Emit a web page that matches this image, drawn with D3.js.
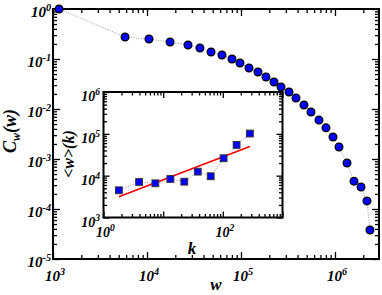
<!DOCTYPE html>
<html>
<head>
<meta charset="utf-8">
<script src="https://cdn.jsdelivr.net/npm/d3@7"></script>
<style>
  body { margin: 0; background: #fff; }
  svg { display: block; }
  .lab { font-family: "Liberation Serif", "DejaVu Serif", serif; font-weight: bold; font-style: italic; fill: #000; }
</style>
</head>
<body>
<svg id="chart" width="382" height="295"></svg>
<script>
// main curve, C_w(w)
var wVals = [1160, 5840, 10500, 17600, 27300, 36600, 48000, 62800, 80200, 97600,
             121700, 151700, 184500, 224500, 266600, 324300, 384800, 468000, 555600, 675600,
             802000, 952600, 1104000, 1343000, 1593000, 1893000, 2190000, 2355000];
var cVals = [1.0, 0.275, 0.251, 0.219, 0.191, 0.166, 0.138, 0.120, 0.100, 0.083,
             0.066, 0.055, 0.0437, 0.0347, 0.0275, 0.0219, 0.0166, 0.0120, 0.0087, 0.0060,
             0.0042, 0.00275, 0.00174, 0.00083, 0.00036, 0.000275, 0.000145, 0.000038];

// inset, <w>(k)
var kVals = [1.81, 3.95, 7.4, 13.2, 22.6, 38, 62.6, 103, 170, 284];
var avgW = [4470, 7060, 6570, 8340, 7180, 12470, 9680, 26100, 54400, 101600];
var fitK = [1.81, 284];
var fitW = [3130, 49500];

var mainXTicks = [1e3, 1e4, 1e5, 1e6];
var mainYTicks = [1, 1e-1, 1e-2, 1e-3, 1e-4, 1e-5];
var insetXTicks = [1, 10, 100, 1000];
var insetXLabels = [1, 100];
var insetYTicks = [1e3, 1e4, 1e5, 1e6];

var svg = d3.select("#chart");

function minors(lo, hi) {
  var out = [];
  for (var e = Math.floor(Math.log10(lo)); e < Math.ceil(Math.log10(hi)); e++) {
    for (var m = 2; m <= 9; m++) {
      var v = m * Math.pow(10, e);
      if (v > lo && v < hi) out.push(v);
    }
  }
  return out;
}

// draws inward ticks on all four sides of a box
function frameTicks(g, x, y, xMaj, yMaj, big, small) {
  var xd = x.domain(), yd = y.domain();
  var r = x.range(), t = y.range();
  var xMin = minors(xd[0], xd[1]), yMin = minors(yd[0], yd[1]);
  var sets = [
    [d3.axisBottom, x, "translate(0," + t[0] + ")", xMaj, xMin],
    [d3.axisTop, x, "translate(0," + t[1] + ")", xMaj, xMin],
    [d3.axisLeft, y, "translate(" + r[0] + ",0)", yMaj, yMin],
    [d3.axisRight, y, "translate(" + r[1] + ",0)", yMaj, yMin]
  ];
  sets.forEach(function(s) {
    [[s[3], big], [s[4], small]].forEach(function(p) {
      var ax = g.append("g").attr("transform", s[2])
        .call(s[0](s[1]).tickValues(p[0]).tickSize(-p[1]).tickFormat(""));
      ax.select(".domain").remove();
      ax.selectAll("line").attr("stroke", "#000").attr("stroke-width", 1.3);
    });
  });
  g.append("rect")
    .attr("x", r[0]).attr("y", t[1])
    .attr("width", r[1] - r[0]).attr("height", t[0] - t[1])
    .attr("fill", "none").attr("stroke", "#000").attr("stroke-width", 2);
}

function powLabel(g, v, px, py, anchor, size) {
  var e = Math.round(Math.log10(v));
  var txt = g.append("text").attr("class", "lab")
    .attr("x", px).attr("y", py)
    .attr("text-anchor", anchor)
    .style("font-size", size + "px");
  txt.append("tspan").text("10");
  txt.append("tspan").attr("dy", -size * 0.42).style("font-size", (size * 0.68) + "px").text(e);
}

// ---------- main plot ----------
var x = d3.scaleLog().domain([1000, 2.94e6]).range([53, 379]);
var y = d3.scaleLog().domain([1e-5, 1]).range([259, 9]);

var gMain = svg.append("g");
frameTicks(gMain, x, y, mainXTicks, mainYTicks, 7, 4);

mainYTicks.forEach(function(v) { powLabel(gMain, v, 51, y(v) + 8, "end", 15); });
mainXTicks.forEach(function(v) { powLabel(gMain, v, x(v) + 2, 281, "middle", 15); });

svg.append("text").attr("class", "lab")
  .attr("x", 216).attr("y", 290)
  .attr("text-anchor", "middle")
  .style("font-size", "17px")
  .text("w");

var yl = svg.append("text").attr("class", "lab")
  .attr("transform", "translate(16,131) rotate(-90)")
  .attr("text-anchor", "middle")
  .style("font-size", "18px");
yl.append("tspan").text("C");
yl.append("tspan").attr("dy", 4).style("font-size", "12px").text("w");
yl.append("tspan").attr("dy", -4).text("(w)");

// ---------- inset ----------
var xi = d3.scaleLog().domain([1, 1000]).range([103.5, 282.5]);
var yi = d3.scaleLog().domain([1e3, 1e6]).range([217.5, 92]);

var gIn = svg.append("g");
gIn.append("rect")
  .attr("x", 103.5).attr("y", 92)
  .attr("width", 179).attr("height", 125.5)
  .attr("fill", "#fff");

gIn.append("path")
  .datum(kVals.map(function(k, i) { return [k, avgW[i]]; }))
  .attr("fill", "none").attr("stroke", "#999")
  .attr("stroke-width", 1).attr("stroke-dasharray", "1,1.5")
  .attr("d", d3.line().x(function(d) { return xi(d[0]); }).y(function(d) { return yi(d[1]); }));

gIn.append("path")
  .datum(fitK.map(function(k, i) { return [k, fitW[i]]; }))
  .attr("fill", "none").attr("stroke", "#ff0000").attr("stroke-width", 1.6)
  .attr("d", d3.line().x(function(d) { return xi(d[0]); }).y(function(d) { return yi(d[1]); }));

gIn.selectAll("rect.sq")
  .data(kVals)
  .enter().append("rect").attr("class", "sq")
  .attr("x", function(d) { return xi(d) - 3.4; })
  .attr("y", function(d, i) { return yi(avgW[i]) - 3.4; })
  .attr("width", 6.8).attr("height", 6.8)
  .attr("fill", "#0000ff").attr("stroke", "#333").attr("stroke-width", 1);

frameTicks(gIn, xi, yi, insetXTicks, insetYTicks, 6, 3.5);

insetYTicks.forEach(function(v) { powLabel(gIn, v, 100, yi(v) + 9, "end", 14); });
insetXLabels.forEach(function(v) { powLabel(gIn, v, xi(v) + 2, 237, "middle", 14); });

svg.append("text").attr("class", "lab")
  .attr("x", 192).attr("y", 254)
  .attr("text-anchor", "middle")
  .style("font-size", "17px")
  .text("k");

svg.append("text").attr("class", "lab")
  .attr("transform", "translate(74,154) rotate(-90)")
  .attr("text-anchor", "middle")
  .style("font-size", "16px")
  .text("<w>(k)");

// ---------- main data on top ----------
var line = d3.line()
  .x(function(d) { return x(d[0]); })
  .y(function(d) { return y(d[1]); });

svg.append("path")
  .datum(wVals.map(function(w, i) { return [w, cVals[i]]; }))
  .attr("fill", "none").attr("stroke", "#999")
  .attr("stroke-width", 1).attr("stroke-dasharray", "1,1.5")
  .attr("d", line);

svg.selectAll("circle.pt")
  .data(wVals)
  .enter().append("circle").attr("class", "pt")
  .attr("cx", function(d) { return x(d); })
  .attr("cy", function(d, i) { return y(cVals[i]); })
  .attr("r", 3.9)
  .attr("fill", "#0000ff").attr("stroke", "#000").attr("stroke-width", 1.2);
</script>
</body>
</html>
